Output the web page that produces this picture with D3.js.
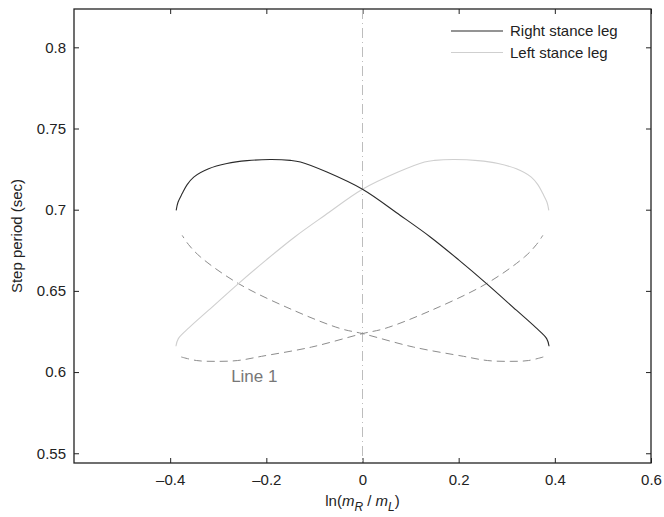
<!DOCTYPE html>
<html lang="en">
<head>
  <meta charset="UTF-8">
  <title>Step period vs ln(mR/mL)</title>
  <script src="https://d3js.org/d3.v7.min.js"></script>
  <style>
    body { margin: 0; background: #fff; }
    svg text { font-family: "Liberation Sans", Arial, Helvetica, sans-serif; fill: #222; }
  </style>
</head>
<body>
<div id="chart"></div>
<script>
// values: [ln(mR/mL), step period]
const rightSolid = [[-0.3875, 0.6996], [-0.3837, 0.7046], [-0.375, 0.7099], [-0.365, 0.7153], [-0.351, 0.7201],
  [-0.320, 0.7252], [-0.282, 0.7284], [-0.240, 0.7302], [-0.192, 0.7309], [-0.150, 0.7304], [-0.129, 0.7294],
  [-0.074, 0.7232], [0, 0.7126], [0.078, 0.6966], [0.141, 0.6832], [0.200, 0.6691], [0.258, 0.6545],
  [0.320, 0.6381], [0.360, 0.6275], [0.383, 0.6206], [0.388, 0.6159]];
const rightDashed = [[0.376, 0.6093], [0.345, 0.6071], [0.307, 0.6066], [0.260, 0.6071], [0.210, 0.6097],
  [0.106, 0.6154], [0, 0.6237], [-0.046, 0.6268], [-0.143, 0.6380], [-0.258, 0.6545], [-0.337, 0.6709],
  [-0.362, 0.6786], [-0.375, 0.6842]];
const leftSolid = [[-0.388, 0.6159], [-0.383, 0.6206], [-0.360, 0.6275], [-0.320, 0.6381], [-0.258, 0.6545],
  [-0.200, 0.6691], [-0.141, 0.6832], [-0.078, 0.6966], [0, 0.7126], [0.074, 0.7232], [0.129, 0.7294],
  [0.150, 0.7304], [0.192, 0.7309], [0.240, 0.7302], [0.282, 0.7284], [0.320, 0.7252], [0.351, 0.7201],
  [0.365, 0.7153], [0.375, 0.7099], [0.3837, 0.7046], [0.3875, 0.6996]];
const leftDashed = [[-0.377, 0.6093], [-0.345, 0.6071], [-0.307, 0.6066], [-0.260, 0.6071], [-0.210, 0.6097],
  [-0.106, 0.6154], [0, 0.6237], [0.046, 0.6268], [0.143, 0.6380], [0.258, 0.6545], [0.337, 0.6709],
  [0.362, 0.6786], [0.375, 0.6842]];

const xTicks = [-0.4, -0.2, 0, 0.2, 0.4, 0.6];
const yTicks = [0.55, 0.6, 0.65, 0.7, 0.75, 0.8];
const legendNames = ["Right stance leg", "Left stance leg"];
const noteLabel = "Line 1";

const W = 664, H = 517;
const margin = { top: 9, right: 13, bottom: 54, left: 74 };
const width = W - margin.left - margin.right;
const height = H - margin.top - margin.bottom;

const svg = d3.select("#chart").append("svg")
  .attr("width", W).attr("height", H);
const g = svg.append("g").attr("transform", `translate(${margin.left},${margin.top})`);

const x = d3.scaleLinear().domain([-0.6, 0.6]).range([0, width]);
const y = d3.scaleLinear().domain([0.544, 0.8236]).range([height, 0]);

const fmt = d => d < 0 ? "\u2013" + d3.format("")(-d) : d3.format("")(d);

// axes, ticks pointing inward like the original
g.append("g").attr("transform", `translate(0,${height})`)
  .call(d3.axisBottom(x).tickValues(xTicks).tickSize(-5).tickSizeOuter(0).tickPadding(11).tickFormat(fmt));
g.append("g")
  .call(d3.axisLeft(y).tickValues(yTicks).tickSize(-5).tickSizeOuter(0).tickPadding(8).tickFormat(fmt));
g.append("g")
  .call(d3.axisTop(x).tickValues(xTicks).tickSize(-5).tickSizeOuter(0).tickFormat(""));
g.append("g").attr("transform", `translate(${width},0)`)
  .call(d3.axisRight(y).tickValues(yTicks).tickSize(-5).tickSizeOuter(0).tickFormat(""));

g.selectAll(".domain").remove();
g.selectAll(".tick line").attr("stroke", "#222");
g.selectAll(".tick text").style("font-size", "15px").attr("fill", "#222");

// zero line (dash-dot)
g.append("line")
  .attr("x1", x(0)).attr("x2", x(0)).attr("y1", 0).attr("y2", height)
  .attr("stroke", "#bdbdbd").attr("stroke-width", 1).attr("stroke-dasharray", "10,4,1,4");

const line = d3.line().x(d => x(d[0])).y(d => y(d[1])).curve(d3.curveCatmullRom);

g.append("path").datum(rightDashed).attr("d", line)
  .attr("fill", "none").attr("stroke", "#8c8c8c").attr("stroke-width", 1).attr("stroke-dasharray", "8,5");
g.append("path").datum(leftDashed).attr("d", line)
  .attr("fill", "none").attr("stroke", "#8c8c8c").attr("stroke-width", 1).attr("stroke-dasharray", "8,5");
g.append("path").datum(leftSolid).attr("d", line)
  .attr("fill", "none").attr("stroke", "#cfcfcf").attr("stroke-width", 1.1);
g.append("path").datum(rightSolid).attr("d", line)
  .attr("fill", "none").attr("stroke", "#2a2a2a").attr("stroke-width", 1.1);

// frame
g.append("rect").attr("width", width).attr("height", height)
  .attr("fill", "none").attr("stroke", "#222").attr("stroke-width", 1.3);

// legend
const legendColors = ["#2a2a2a", "#cfcfcf"];
const leg = g.selectAll(".leg").data(legendNames).enter().append("g")
  .attr("transform", (d, i) => `translate(${377},${22 + i * 21.5})`);
leg.append("line").attr("x1", 0).attr("x2", 52)
  .attr("stroke", (d, i) => legendColors[i]).attr("stroke-width", 1.1);
leg.append("text").attr("x", 59).attr("dy", "0.35em")
  .style("font-size", "15px").text(d => d);

// annotation
g.append("text")
  .attr("x", x(-0.225)).attr("y", y(0.5937))
  .attr("text-anchor", "middle")
  .style("font-size", "17px").style("fill", "#777")
  .text(noteLabel);

// axis labels
const xl = svg.append("text")
  .attr("x", margin.left + x(0)).attr("y", 506)
  .attr("text-anchor", "middle").style("font-size", "15px");
xl.append("tspan").text("ln(");
xl.append("tspan").style("font-style", "italic").text("m");
xl.append("tspan").attr("dy", 5).style("font-size", "12px").style("font-style", "italic").text("R");
xl.append("tspan").attr("dy", -5).text(" / ");
xl.append("tspan").style("font-style", "italic").text("m");
xl.append("tspan").attr("dy", 5).style("font-size", "12px").style("font-style", "italic").text("L");
xl.append("tspan").attr("dy", -5).text(")");

svg.append("text")
  .attr("transform", `translate(22,${margin.top + height / 2}) rotate(-90)`)
  .attr("text-anchor", "middle").style("font-size", "15px")
  .text("Step period (sec)");
</script>
</body>
</html>
